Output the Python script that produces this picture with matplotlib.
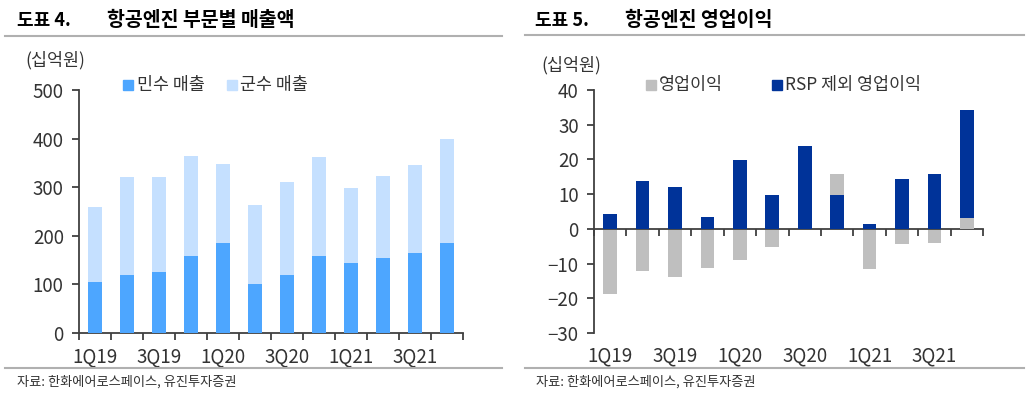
import matplotlib
matplotlib.use("Agg")
import matplotlib.pyplot as plt
from matplotlib.lines import Line2D
import numpy as np

plt.rcParams["font.family"] = ["Noto Sans CJK KR", "DejaVu Sans"]

quarters = ["1Q19", "2Q19", "3Q19", "4Q19", "1Q20", "2Q20",
            "3Q20", "4Q20", "1Q21", "2Q21", "3Q21", "4Q21"]

# 도표 4: 민수 / 군수 매출 (십억원)
civil = [104, 119, 125, 158, 186, 100, 119, 158, 145, 155, 164, 186]
military = [155, 202, 196, 206, 161, 164, 191, 204, 154, 168, 182, 213]

# 도표 5: 영업이익 / RSP 제외 영업이익 (십억원)
op_profit = [-18.7, -12.1, -14.0, -11.4, -9.1, -5.1, 0, 15.7, -11.5, -4.5, -4.1, 3.2]
op_ex_rsp = [4.3, 13.9, 12.0, 3.5, 19.9, 9.8, 24.0, 9.8, 1.5, 14.5, 15.8, 34.3]

AXIS = "#404040"
TXT = "#333333"
C_CIVIL = "#4da6ff"
C_MIL = "#c5e0ff"
C_GRAY = "#bfbfbf"
C_NAVY = "#003399"

fig = plt.figure(figsize=(10.26, 3.98), dpi=100)
x = np.arange(len(quarters))
W, H = 1026, 398


def fx(px):
    return px / W


def fy(py):
    return 1 - py / H


def style_axes(ax):
    for s in ["top", "right"]:
        ax.spines[s].set_visible(False)
    for s in ["left", "bottom"]:
        ax.spines[s].set_color(AXIS)
        ax.spines[s].set_linewidth(1.3)
    ax.tick_params(axis="y", direction="out", length=5, width=1.3, color=AXIS,
                   labelsize=13.5, labelcolor=TXT, pad=6)
    ax.set_xlim(-0.5, len(quarters) - 0.5)
    # tick marks between quarters, labels every other quarter
    ax.set_xticks(np.arange(-0.5, len(quarters)), minor=True)
    ax.tick_params(axis="x", which="minor", direction="out", length=5, width=1.3, color=AXIS)
    ax.set_xticks(x[::2])
    ax.tick_params(axis="x", which="major", length=0, labelsize=13.5, labelcolor=TXT)


# ---- left chart ----
ax1 = fig.add_axes([fx(79), fy(333), fx(384), (333 - 90) / H])
ax1.bar(x, civil, width=0.42, color=C_CIVIL, zorder=3)
ax1.bar(x, military, width=0.42, bottom=civil, color=C_MIL, zorder=3)
ax1.set_ylim(0, 500)
ax1.set_yticks(range(0, 501, 100))
style_axes(ax1)
ax1.set_xticklabels(quarters[::2])
ax1.tick_params(axis="x", which="major", pad=10)

# ---- right chart ----
ax2 = fig.add_axes([fx(594), fy(333), fx(389), (333 - 90) / H])
gray_bars = ax2.bar(x, op_profit, width=0.42, color=C_GRAY, zorder=2)
ax2.bar(x, op_ex_rsp, width=0.42, color=C_NAVY, zorder=3)
gray_bars[-1].set_zorder(4)
ax2.set_ylim(-30, 40)
ax2.set_yticks(range(-30, 41, 10))
style_axes(ax2)
ax2.spines["bottom"].set_position(("data", 0))
ax2.set_xticklabels([])
for i in x[::2]:
    ax2.text(i, -0.05, quarters[i], transform=ax2.get_xaxis_transform(),
             ha="center", va="top", fontsize=13.5, color=TXT)

# ---- titles, units, legends, footers ----
for x0, x1, num, title in [(17, 107, "도표 4.", "항공엔진 부문별 매출액"),
                           (535, 625, "도표 5.", "항공엔진 영업이익")]:
    fig.text(fx(x0), fy(20), num, fontsize=13, fontweight="bold", va="center", color="black")
    fig.text(fx(x1), fy(20), title, fontsize=14, fontweight="bold", va="center", color="black")

fig.add_artist(Line2D([fx(5), fx(502)], [fy(36), fy(36)], color="#b0b0b0", lw=1.5))
fig.add_artist(Line2D([fx(525), fx(1024)], [fy(35), fy(35)], color="#b0b0b0", lw=1.5))
fig.add_artist(Line2D([fx(5), fx(502)], [fy(368), fy(368)], color="#b0b0b0", lw=1.5))
fig.add_artist(Line2D([fx(525), fx(1024)], [fy(368), fy(368)], color="#b0b0b0", lw=1.5))

fig.text(fx(25), fy(60), "(십억원)", fontsize=12.5, va="center", color=TXT)
fig.text(fx(541), fy(65), "(십억원)", fontsize=12.5, va="center", color=TXT)

legend_items = [(123, 137, C_CIVIL, "민수 매출"), (227, 240, C_MIL, "군수 매출"),
                (646, 659, C_GRAY, "영업이익"), (772, 785, C_NAVY, "RSP 제외 영업이익")]
for sx, tx, c, label in legend_items:
    fig.patches.append(plt.Rectangle((fx(sx), fy(90)), fx(10), 10 / H, color=c,
                                     transform=fig.transFigure, figure=fig))
    fig.text(fx(tx), fy(85), label, fontsize=12.5, va="center", color=TXT)

fig.text(fx(17), fy(382), "자료: 한화에어로스페이스, 유진투자증권", fontsize=9.5, va="center", color=TXT)
fig.text(fx(536), fy(382), "자료: 한화에어로스페이스, 유진투자증권", fontsize=9.5, va="center", color=TXT)

fig.savefig("out.png", dpi=100, facecolor="white")
